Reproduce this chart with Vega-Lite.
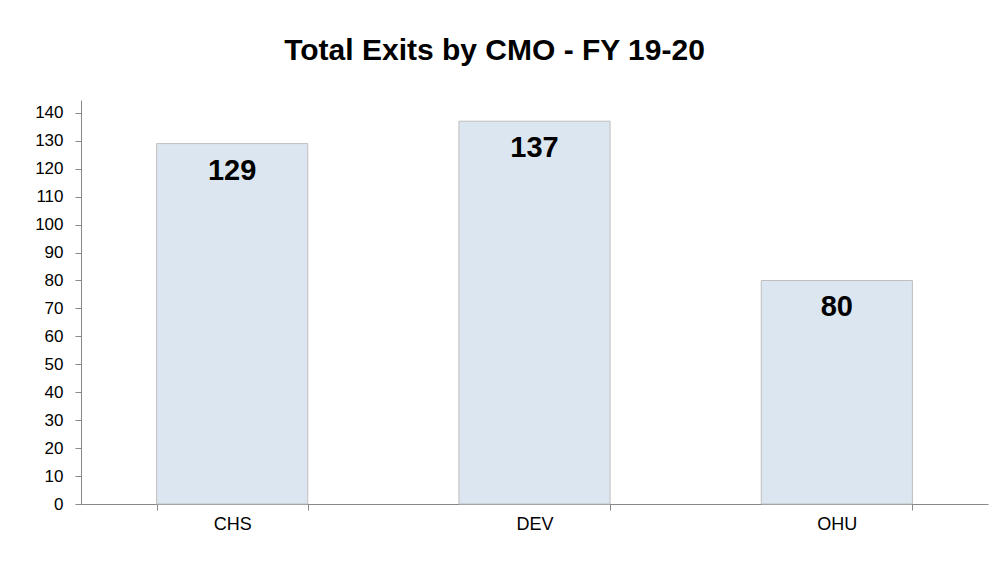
{
  "$schema": "https://vega.github.io/schema/vega-lite/v6.json",
  "width": 907,
  "height": 404,
  "autosize": {"type": "none"},
  "padding": {"left": 81, "top": 100, "right": 16, "bottom": 66},
  "background": "white",
  "title": {
    "text": "Total Exits by CMO - FY 19-20",
    "font": "Liberation Sans",
    "fontSize": 30,
    "fontWeight": "bold",
    "color": "#000000",
    "anchor": "middle",
    "dx": -40,
    "offset": 34
  },
  "data": {
    "values": [
      {"cmo": "CHS", "exits": 129},
      {"cmo": "DEV", "exits": 137},
      {"cmo": "OHU", "exits": 80}
    ]
  },
  "encoding": {
    "x": {
      "field": "cmo",
      "type": "nominal",
      "sort": null,
      "scale": {"paddingInner": 0.5, "paddingOuter": 0.25},
      "axis": {
        "title": null,
        "labelAngle": 0,
        "tickBand": "extent",
        "domainColor": "#888888",
        "tickColor": "#888888",
        "tickSize": 6,
        "labelFont": "Liberation Sans",
        "labelFontSize": 18,
        "labelColor": "#000000",
        "labelPadding": 5
      }
    },
    "y": {
      "field": "exits",
      "type": "quantitative",
      "scale": {"domain": [0, 144.6], "nice": false},
      "axis": {
        "title": null,
        "values": [0, 10, 20, 30, 40, 50, 60, 70, 80, 90, 100, 110, 120, 130, 140],
        "grid": false,
        "domainColor": "#888888",
        "tickColor": "#888888",
        "tickSize": 6,
        "labelFont": "Liberation Sans",
        "labelFontSize": 17,
        "labelColor": "#000000",
        "labelPadding": 12
      }
    }
  },
  "layer": [
    {
      "mark": {"type": "bar", "fill": "#dce6f0", "stroke": "#bfbfbf", "strokeWidth": 1}
    },
    {
      "mark": {
        "type": "text",
        "font": "Liberation Sans",
        "fontSize": 29,
        "fontWeight": "bold",
        "color": "#000000",
        "baseline": "middle",
        "dy": 27
      },
      "encoding": {"text": {"field": "exits", "type": "quantitative"}}
    }
  ],
  "config": {"view": {"stroke": null}}
}
